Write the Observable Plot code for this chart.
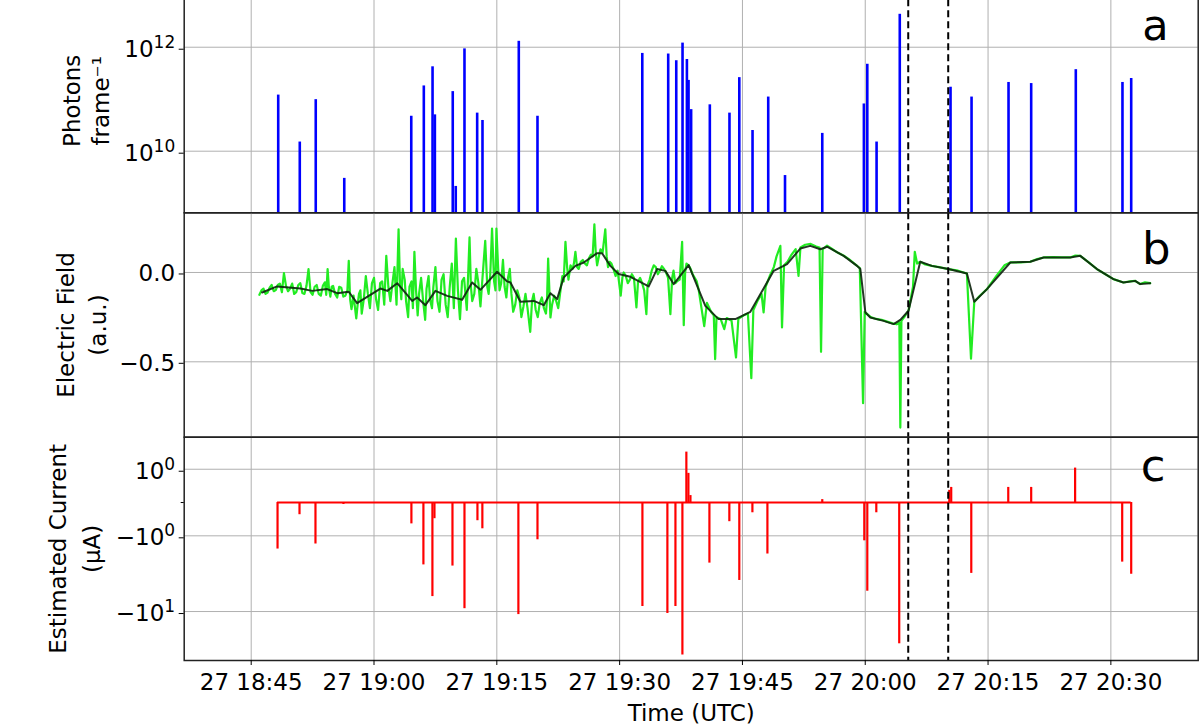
<!DOCTYPE html>
<html><head><meta charset="utf-8">
<script src="https://cdn.jsdelivr.net/npm/d3@7"></script>
<script src="https://cdn.jsdelivr.net/npm/@observablehq/plot@0.6"></script>
<style>
html,body{margin:0;padding:0;background:#fff;}
body{width:1200px;height:727px;overflow:hidden;position:relative;font-family:"DejaVu Sans",sans-serif;}
#root{position:absolute;left:0;top:0;width:1200px;height:727px;overflow:hidden;}
</style></head>
<body><div id="root"></div>
<script>
// ---------- data ----------
const DAY = "2023-06-27T";
const xTickLabels = ["18:45","19:00","19:15","19:30","19:45","20:00","20:15","20:30"];
const xDomainLabels = ["18:36:49","20:40:40"];
const dashTimes = ["20:05:15","20:10:08"];

// panel a: photons per frame
const photonTimes = ["18:48:18","18:50:56","18:52:53","18:56:22","19:04:33","19:06:05","19:07:09","19:07:26","19:09:37","19:09:59",
  "19:11:03","19:12:36","19:13:15","19:17:41","19:19:58","19:32:46","19:35:56","19:36:55","19:37:41","19:38:13",
  "19:38:25","19:38:44","19:41:01","19:43:25","19:44:37","19:46:14","19:48:09","19:50:12","19:54:45","19:59:50",
  "20:00:15","20:01:23","20:04:13","20:10:25","20:12:59","20:17:30","20:20:16","20:25:43","20:31:25","20:32:29"];
const photonValues = [1.2e11,1.5e10,9.8e10,3.0e9,4.7e10,1.8e11,4.2e11,5.0e10,1.4e11,2.1e9,
  9.3e11,5.4e10,3.9e10,1.3e12,4.7e10,7.6e11,7.4e11,5.5e11,1.2e12,5.8e11,
  2.3e11,6.3e10,7.8e10,5.4e10,2.6e11,2.5e10,1.1e11,3.4e9,2.2e10,8.1e10,
  4.7e11,1.5e10,4.3e12,1.7e11,1.1e11,2.1e11,2.0e11,3.7e11,2.1e11,2.5e11];
const photonTicks = [1e10, 1e12];
const photonDomain = [6.53e8, 1.33e13];

// panel b: electric field (raw, green) — main samples
const fieldTimes = ["18:46:00","18:46:30","18:47:00","18:47:30","18:48:00","18:48:30","18:49:00","18:49:30","18:50:00","18:50:30",
  "18:51:00","18:51:30","18:52:00","18:52:30","18:53:00","18:53:30","18:54:00","18:54:20","18:54:40","18:55:00",
  "18:55:30","18:56:00","18:56:30","18:56:55","18:57:15","18:57:50","18:58:10","18:58:30","18:59:00","18:59:30",
  "19:00:00","19:00:30","19:01:00","19:01:30","19:02:00","19:02:30","19:03:00","19:03:20","19:03:45","19:04:10",
  "19:04:35","19:04:56","19:05:20","19:05:45","19:06:15","19:06:40","19:07:05","19:07:30","19:08:00","19:08:30",
  "19:09:00","19:09:30","19:10:00","19:10:30","19:11:00","19:11:20","19:11:40","19:12:00","19:12:30","19:13:00",
  "19:13:35","19:14:00","19:14:25","19:14:40","19:14:57","19:15:20","19:15:45","19:16:10","19:16:35","19:17:00",
  "19:17:30","19:18:00","19:18:30","19:19:05","19:19:30","19:20:00","19:20:30","19:21:00","19:21:16","19:21:33",
  "19:22:00","19:22:30","19:23:00","19:23:23","19:23:45","19:24:15","19:24:36","19:25:00","19:25:30","19:26:00",
  "19:26:30","19:26:55","19:27:15","19:27:40","19:28:15","19:28:35","19:29:00","19:29:30","19:30:08","19:30:30",
  "19:31:00","19:31:30","19:32:03","19:32:30","19:33:00","19:33:16","19:33:40","19:34:10","19:34:40","19:35:10",
  "19:35:40","19:36:12","19:36:35","19:37:00","19:37:38","19:37:50","19:38:10","19:38:40","19:39:10","19:39:40",
  "19:40:20","19:40:40","19:41:10","19:41:30","19:41:40","19:41:50","19:42:20","19:42:47","19:43:05","19:43:40",
  "19:44:13","19:44:30","19:45:10","19:45:40","19:46:05","19:46:20","19:46:50","19:47:20","19:47:35","19:47:50",
  "19:48:20","19:48:50","19:49:10","19:49:38","19:49:50","19:50:05","19:50:30","19:51:00","19:51:30","19:51:51",
  "19:52:05","19:52:40","19:53:20","19:54:00","19:54:25","19:54:36","19:54:48","19:55:20","19:56:00","19:56:40",
  "19:57:20","19:58:00","19:58:40","19:59:20","19:59:44","19:59:56","20:00:40","20:01:20","20:02:00","20:02:40",
  "20:03:20","20:03:50","20:04:10","20:04:17","20:04:25","20:04:50","20:05:17","20:05:50","20:06:03","20:06:20",
  "20:06:43","20:07:20","20:08:08","20:09:00","20:10:10","20:11:20","20:12:25","20:12:55","20:13:19","20:14:00",
  "20:14:52","20:16:00","20:17:00","20:17:43","20:19:00","20:20:09","20:21:00","20:21:47","20:23:00","20:24:00",
  "20:25:02","20:25:40","20:26:16","20:27:20","20:28:18","20:29:20","20:30:19","20:31:32","20:32:20","20:32:58",
  "20:33:35","20:34:10","20:34:48"];
const fieldValues = [-0.125,-0.090,-0.112,-0.070,-0.098,-0.062,-0.004,-0.105,-0.062,-0.110,
  -0.060,-0.120,0.019,-0.125,-0.070,-0.130,-0.055,0.019,-0.135,-0.075,
  -0.140,-0.085,-0.130,0.065,-0.205,-0.257,-0.120,-0.230,-0.020,-0.200,
  -0.030,-0.210,-0.050,0.093,-0.160,0.030,0.242,-0.150,-0.040,-0.250,
  -0.050,0.116,-0.240,-0.030,-0.265,-0.020,-0.200,0.030,-0.220,-0.010,
  -0.250,0.050,0.190,-0.261,-0.030,-0.210,0.196,-0.160,0.020,-0.190,
  0.177,-0.120,0.246,-0.050,0.246,-0.100,0.070,-0.140,0.020,-0.220,
  -0.100,-0.250,-0.120,-0.332,-0.120,-0.250,-0.140,-0.230,0.078,-0.252,
  -0.130,-0.200,-0.020,0.172,-0.040,0.020,0.116,0.020,0.070,0.040,
  0.100,0.270,0.040,0.130,0.242,0.030,0.050,-0.020,-0.130,0.000,
  -0.060,-0.010,-0.196,-0.030,-0.100,-0.233,-0.040,0.040,-0.010,0.035,
  0.000,-0.233,0.010,-0.050,0.172,-0.295,0.050,0.020,-0.030,-0.100,
  -0.300,-0.170,-0.220,-0.240,-0.485,-0.250,-0.260,-0.317,-0.255,-0.270,
  -0.476,-0.260,-0.240,-0.230,-0.592,-0.210,-0.160,-0.120,-0.224,-0.080,
  -0.020,0.030,0.090,0.149,-0.308,0.040,0.060,0.100,0.130,-0.019,
  0.140,0.155,0.160,0.145,0.140,-0.444,0.130,0.150,0.130,0.110,
  0.095,0.075,0.050,0.025,-0.732,-0.220,-0.250,-0.260,-0.265,-0.275,
  -0.285,-0.290,-0.280,-0.868,-0.270,-0.245,-0.214,-0.080,0.116,0.050,
  0.060,0.045,0.037,0.030,0.019,0.010,-0.006,-0.482,-0.164,-0.130,
  -0.093,-0.020,0.040,0.056,0.057,0.060,0.075,0.084,0.086,0.085,
  0.084,0.095,0.093,0.055,0.019,-0.010,-0.037,-0.056,-0.050,-0.047,
  -0.065,-0.055,-0.060];

// panel b: electric field (raw, green) — extra samples inside the noisy band
const fieldExtraTimes = ["18:46:15","18:46:45","18:47:15","18:47:45","18:48:15","18:48:45","18:49:15","18:49:45","18:50:15","18:50:45",
  "18:51:15","18:51:45","18:52:15","18:52:45","18:53:15","18:53:45","18:54:10","18:54:30","18:54:50","18:55:15",
  "18:55:45","18:56:15","18:56:45","18:57:05","18:57:30","18:58:00","18:58:20","18:58:45","18:59:15","18:59:45",
  "19:00:15","19:00:45","19:01:15","19:01:45","19:02:15","19:02:45","19:03:10","19:03:30","19:03:55","19:04:20",
  "19:04:45","19:05:08","19:05:30","19:06:00","19:06:25","19:06:50","19:07:15","19:07:45","19:08:15","19:08:45",
  "19:09:15","19:09:45","19:10:15","19:10:45","19:11:10","19:11:30","19:11:50","19:12:15","19:12:45","19:13:15",
  "19:13:50","19:14:12","19:14:50","19:15:10","19:15:32","19:15:57","19:16:22","19:16:47","19:17:15","19:17:45",
  "19:18:15","19:18:45","19:19:18","19:19:45","19:20:15","19:20:45","19:21:08","19:21:45","19:22:15",
  "19:23:10","19:23:35","19:24:00","19:24:25","19:24:48","19:25:15","19:25:45","19:26:15","19:26:42","19:27:05",
  "19:27:28","19:27:55","19:28:25","19:28:47","19:29:15","19:29:45","19:30:20","19:30:45","19:31:15","19:31:45",
  "19:32:15","19:32:45","19:33:25","19:33:55","19:34:25","19:34:55","19:35:25","19:35:55","19:36:25","19:36:48",
  "19:37:20","19:38:00","19:38:25","19:38:55","19:39:25"];
const fieldExtraValues = [-0.100,-0.120,-0.085,-0.105,-0.070,-0.110,-0.075,-0.090,-0.120,-0.070,
  -0.115,-0.075,-0.110,-0.080,-0.120,-0.075,-0.125,-0.090,-0.080,-0.120,
  -0.080,-0.135,-0.100,-0.150,-0.130,-0.180,-0.100,-0.150,-0.120,-0.060,
  -0.150,-0.060,-0.180,-0.080,-0.060,-0.180,-0.050,0.020,-0.160,-0.080,
  -0.200,-0.100,-0.120,-0.160,-0.090,-0.150,-0.080,-0.160,-0.040,-0.180,
  -0.080,-0.200,-0.100,-0.050,-0.120,-0.010,-0.080,-0.120,-0.060,-0.030,
  -0.080,-0.010,-0.100,0.020,-0.060,-0.080,-0.030,-0.120,-0.180,-0.140,
  -0.190,-0.200,-0.160,-0.210,-0.170,-0.200,-0.150,-0.180,-0.160,
  -0.050,0.030,0.040,0.050,0.030,0.060,0.050,0.080,0.090,0.110,
  0.090,0.110,0.090,0.060,0.020,0.010,-0.030,-0.020,-0.040,-0.030,
  -0.050,-0.060,-0.070,0.010,0.030,0.010,0.020,-0.030,-0.030,-0.060,
  -0.040,0.000,0.040,-0.010,-0.050];

// panel b: electric field (smoothed, black)
const smoothTimes = ["18:46:20","18:48:10","18:51:01","18:52:27","18:54:17","18:55:30","18:56:55","18:57:56","19:00:47","19:01:37",
  "19:02:50","19:04:40","19:05:16","19:06:17","19:07:30","19:08:56","19:10:46","19:11:59","19:13:00","19:15:02",
  "19:16:16","19:16:40","19:17:53","19:19:31","19:20:44","19:21:33","19:22:22","19:23:10","19:24:36","19:25:37",
  "19:27:15","19:27:51","19:28:52","19:29:53","19:31:19","19:33:33","19:34:34","19:35:35","19:36:36","19:38:26",
  "19:40:28","19:42:05","19:44:08","19:45:58","19:48:49","19:50:27","19:52:04","19:53:17","19:54:31","19:55:20",
  "19:57:22","19:59:00","19:59:24","20:00:01","20:00:37","20:02:14","20:03:28","20:04:17","20:05:17","20:06:43",
  "20:08:08","20:10:10","20:12:25","20:13:19","20:14:52","20:17:43","20:20:09","20:21:47","20:25:02","20:26:16",
  "20:28:18","20:30:19","20:31:32","20:32:58","20:33:35","20:34:48"];
const smoothValues = [-0.112,-0.078,-0.090,-0.103,-0.093,-0.116,-0.108,-0.172,-0.090,-0.103,
  -0.060,-0.159,-0.140,-0.183,-0.103,-0.131,-0.153,-0.056,-0.097,0.004,
  -0.050,-0.056,-0.164,-0.159,-0.183,-0.116,-0.149,-0.028,0.037,0.056,
  0.108,0.108,0.037,-0.009,-0.024,-0.078,0.019,0.009,-0.065,0.041,
  -0.187,-0.261,-0.261,-0.220,0.009,0.047,0.134,0.149,0.130,0.144,
  0.093,0.037,0.019,-0.224,-0.252,-0.271,-0.289,-0.265,-0.214,0.060,
  0.037,0.019,-0.006,-0.164,-0.093,0.056,0.060,0.084,0.084,0.093,
  0.019,-0.037,-0.056,-0.047,-0.065,-0.060];
const fieldTicks = [0, -0.5];
const fieldDomain = [-0.922, 0.334];

// panel c: estimated current (µA)
const currentTimes = ["18:48:13","18:50:54","18:52:51","18:56:16","19:04:34","19:06:02","19:07:08","19:07:23","19:09:35","19:11:03",
  "19:12:38","19:13:14","19:17:38","19:19:58","19:32:47","19:35:50","19:36:49","19:37:40","19:38:09","19:38:24",
  "19:38:39","19:40:58","19:43:24","19:44:37","19:46:13","19:48:03","19:54:45","19:59:53","20:00:15","20:01:21",
  "20:04:09","20:10:16","20:10:30","20:12:57","20:17:28","20:20:16","20:25:38","20:31:23","20:32:29"];
const currentValues = [-1.67,-0.28,-1.39,-0.04,-0.55,-2.8,-6.8,-0.39,-2.9,-9.3,
  -0.45,-0.72,-10.8,-1.18,-8.8,-10.5,-8.8,-29.1,1.91,0.83,
  0.15,-2.65,-0.48,-4.4,-0.23,-1.98,0.06,-1.23,-5.9,-0.23,
  -22.2,0.28,0.36,-3.6,0.36,0.36,1.05,-2.57,-3.69];
const currentTicks = [1, -1, -10];
const currentDomain = [-33.2, 3.06];

// ---------- helpers ----------
const T = s => new Date(DAY + (s.length === 5 ? s + ":00" : s) + "Z");
const xDomain = xDomainLabels.map(T);
const xTicks = xTickLabels.map(T);
const dashes = dashTimes.map(T);
const photonRows = photonTimes.map((t, i) => ({t: T(t), v: photonValues[i]}));
const fieldRows = fieldTimes.map((t, i) => ({t: T(t), v: fieldValues[i]}))
  .concat(fieldExtraTimes.map((t, i) => ({t: T(t), v: fieldExtraValues[i]})))
  .sort((a, b) => a.t - b.t);
const smoothRows = smoothTimes.map((t, i) => ({t: T(t), v: smoothValues[i]}));
const currentRows = currentTimes.map((t, i) => ({t: T(t), v: currentValues[i]}));
const baseRow = [{y: 0, x1: T(currentTimes[0]), x2: T(currentTimes[currentTimes.length - 1])}];

const FONT = "DejaVu Sans";
const GRID = {stroke: "#b0b0b0", strokeOpacity: 1, strokeWidth: 1};
const root = document.getElementById("root");

function supify(svg) {
  svg.querySelectorAll("text").forEach(t => {
    const m = /^([−-]?)10\^([−-]?\d+)$/.exec(t.textContent);
    if (!m) return;
    t.textContent = "";
    t.appendChild(document.createTextNode(m[1] + "10"));
    const ts = document.createElementNS("http://www.w3.org/2000/svg", "tspan");
    ts.setAttribute("dy", "-9");
    ts.setAttribute("font-size", "17");
    ts.textContent = m[2];
    t.appendChild(ts);
  });
}

function panel({top, height, mt, mb, y, marks}) {
  const p = Plot.plot({
    width: 1200, height,
    marginTop: mt, marginBottom: mb, marginLeft: 183.7, marginRight: 2.3,
    style: {fontFamily: FONT, fontSize: "23px", background: "transparent", overflow: "visible", color: "#000"},
    x: {type: "utc", domain: xDomain, axis: null},
    y: {...y, axis: null},
    marks
  });
  p.style.position = "absolute";
  p.style.left = "0px";
  p.style.top = top + "px";
  supify(p);
  root.appendChild(p);
}

const dashMark = () => Plot.ruleX(dashes, {stroke: "#000", strokeWidth: 2, strokeDasharray: "7,4"});
const frameMark = () => Plot.frame({stroke: "#222", strokeWidth: 1.5});
const letter = (s, dx, dy, fs) => Plot.text([s], {frameAnchor: "top-right", textAnchor: "end", lineAnchor: "bottom", dx, dy, fontSize: fs, fill: "#000"});
const ylabel = (s, dx, lh) => Plot.text([s], {frameAnchor: "left", textAnchor: "middle", lineAnchor: "middle", rotate: -90, dx, lineHeight: lh, fontSize: 23, fill: "#000"});

// ---------- panel a ----------
panel({
  top: -20, height: 240, mt: 8.3, mb: 7.7,
  y: {type: "log", domain: photonDomain},
  marks: [
    Plot.gridX(xTicks, GRID),
    Plot.gridY(photonTicks, GRID),
    Plot.ruleX(photonRows, {x: "t", y1: photonDomain[0], y2: "v", stroke: "#0000ff", strokeWidth: 2.6}),
    dashMark(),
    frameMark(),
    Plot.axisY(photonTicks, {anchor: "left", tickSize: 5, tickPadding: 4, dy: 2, tickFormat: d => "10^" + Math.round(Math.log10(d)), label: null, fontSize: 23}),
    letter("a", -29.7, 51.5, 43),
    ylabel("Photons\nframe⁻¹", -98.7, 1.22)
  ]
});

// ---------- panel b ----------
panel({
  top: 200, height: 250, mt: 12.3, mb: 13.3,
  y: {type: "linear", domain: fieldDomain},
  marks: [
    Plot.gridX(xTicks, GRID),
    Plot.gridY(fieldTicks, GRID),
    Plot.line(fieldRows, {x: "t", y: "v", stroke: "#22ec22", strokeWidth: 2.2}),
    Plot.line(smoothRows, {x: "t", y: "v", stroke: "#0d240d", strokeWidth: 2, strokeOpacity: 0.9}),
    dashMark(),
    frameMark(),
    Plot.axisY(fieldTicks, {anchor: "left", tickSize: 5, tickPadding: 4, dy: 1.5, tickFormat: d3.format(".1f"), label: null, fontSize: 23}),
    letter("b", -27.7, 50.7, 45),
    ylabel("Electric Field\n(a.u.)", -104, 1.39)
  ]
});

// ---------- panel c ----------
panel({
  top: 425, height: 302, mt: 11.7, mb: 67,
  y: {type: "symlog", constant: 0.85, domain: currentDomain},
  marks: [
    Plot.gridX(xTicks, GRID),
    Plot.gridY(currentTicks, GRID),
    Plot.ruleY(baseRow, {y: "y", x1: "x1", x2: "x2", stroke: "#ff0000", strokeWidth: 2}),
    Plot.ruleX(currentRows, {x: "t", y1: 0, y2: "v", stroke: "#ff0000", strokeWidth: 2.2}),
    dashMark(),
    frameMark(),
    Plot.axisY(currentTicks, {anchor: "left", tickSize: 5, tickPadding: 4, dy: 2, tickFormat: d => (d < 0 ? "−" : "") + "10^" + Math.round(Math.log10(Math.abs(d))), label: null, fontSize: 23}),
    Plot.axisY([0], {anchor: "left", tickSize: 3, tickFormat: () => "", label: null}),
    Plot.axisX(xTicks, {anchor: "bottom", tickSize: 5, tickPadding: 8, tickFormat: d3.utcFormat("%d %H:%M"), label: null, fontSize: 23}),
    Plot.text(["Time (UTC)"], {frameAnchor: "bottom", lineAnchor: "bottom", dy: 60, fontSize: 23, fill: "#000"}),
    letter("c", -32.7, 43.3, 45),
    ylabel("Estimated Current\n(μA)", -111.7, 1.48)
  ]
});
</script>
</body></html>
